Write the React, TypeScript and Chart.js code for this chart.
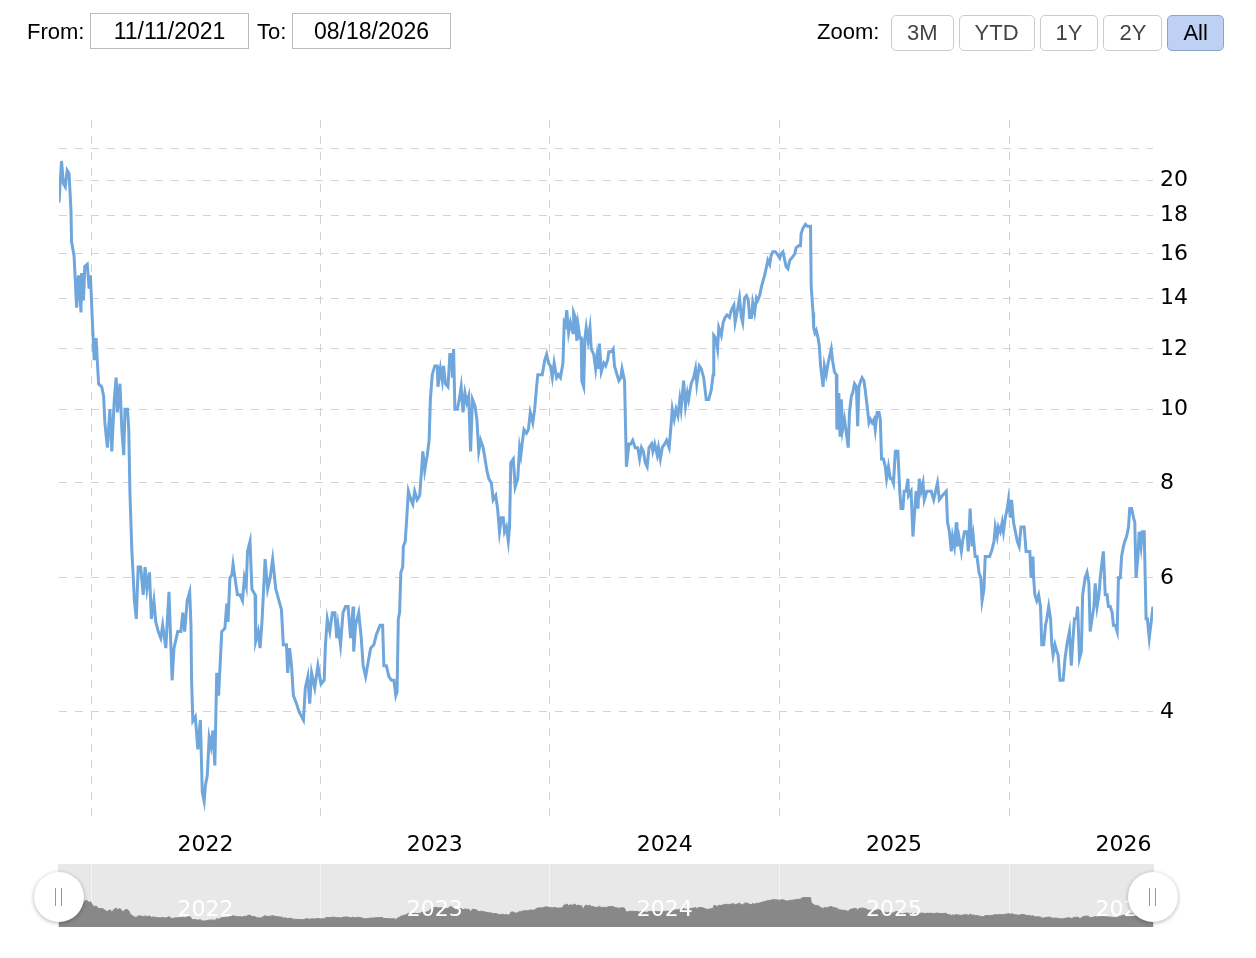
import { useEffect, useRef } from "react";
import { Chart, registerables } from "chart.js";

Chart.register(...registerables);

// x values are days counted from the first date shown (11/11/2021)
const startDate = Date.UTC(2021, 10, 11);
const dayOf = (y: number, m: number, d: number) =>
	Math.round((Date.UTC(y, m - 1, d) - startDate) / 86400000);

const fromLabel = "11/11/2021";
const toLabel = "08/18/2026";
const zoomButtons = ["3M", "YTD", "1Y", "2Y", "All"];
const selectedZoom = "All";

const years = [2022, 2023, 2024, 2025, 2026];
const priceTicks = [4, 6, 8, 10, 12, 14, 16, 18, 20, 22];
const unlabelledTicks = [22];

const days = [
	0, 4, 7, 10, 13, 16, 19, 20, 24, 28, 31, 35, 36, 39, 41, 45, 48, 50, 53, 56,
	59, 63, 68, 71, 73, 77, 81, 84, 88, 91, 93, 97, 100, 103, 105, 109, 111, 113, 116, 118,
	120, 123, 126, 130, 134, 137, 140, 144, 147, 151, 154, 158, 162, 165, 170, 175, 180, 183, 189, 194,
	197, 200, 204, 208, 210, 211, 213, 217, 221, 225, 228, 231, 233, 236, 239, 242, 245, 248, 251, 254,
	259, 264, 267, 269, 272, 275, 277, 280, 284, 288, 292, 295, 298, 300, 304, 307, 312, 313, 317, 320,
	323, 328, 332, 336, 340, 345, 354, 357, 362, 364, 367, 370, 373, 378, 382, 389, 392, 396, 399, 402,
	407, 412, 417, 422, 424, 427, 431, 435, 439, 442, 444, 448, 452, 456, 460, 464, 468, 469, 472, 477,
	481, 484, 488, 492, 496, 501, 505, 511, 515, 517, 521, 525, 529, 533, 536, 538, 540, 542, 544, 547,
	548, 551, 553, 556, 560, 563, 566, 570, 574, 577, 579, 582, 586, 589, 591, 594, 598, 602, 603, 607,
	610, 612, 615, 619, 622, 625, 626, 628, 630, 634, 637, 640, 643, 646, 649, 652, 655, 658, 662, 665,
	668, 671, 675, 678, 681, 684, 688, 691, 695, 698, 701, 704, 707, 709, 712, 715, 717, 719, 723, 726,
	730, 733, 735, 737, 740, 744, 747, 750, 754, 757, 760, 762, 767, 769, 773, 776, 779, 782, 785, 788,
	792, 795, 798, 802, 804, 806, 808, 811, 814, 818, 819, 822, 824, 826, 829, 831, 832, 835, 837, 839,
	842, 845, 847, 851, 854, 856, 858, 860, 863, 867, 870, 873, 875, 879, 882, 884, 888, 891, 894, 896,
	900, 903, 907, 910, 913, 917, 921, 924, 927, 930, 933, 936, 939, 943, 945, 948, 952, 954, 957, 960,
	964, 967, 971, 973, 976, 979, 982, 985, 988, 990, 994, 997, 1000, 1002, 1006, 1010, 1013, 1015, 1019, 1022,
	1026, 1030, 1034, 1038, 1041, 1042, 1045, 1048, 1050, 1054, 1057, 1060, 1063, 1067, 1070, 1074, 1076, 1079, 1083, 1086,
	1088, 1091, 1094, 1097, 1099, 1102, 1104, 1107, 1110, 1112, 1115, 1118, 1120, 1123, 1126, 1128, 1131, 1133, 1136, 1140,
	1143, 1147, 1149, 1152, 1155, 1157, 1160, 1163, 1166, 1171, 1173, 1177, 1180, 1181, 1184, 1188, 1191, 1196, 1197, 1200,
	1201, 1203, 1205, 1208, 1210, 1212, 1216, 1218, 1221, 1224, 1226, 1229, 1231, 1234, 1237, 1238, 1241, 1243, 1245, 1247,
	1250, 1253, 1256, 1258, 1261, 1263, 1266, 1269, 1271, 1273, 1276, 1278, 1281, 1283, 1286, 1289, 1291, 1294, 1297, 1299,
	1302, 1305, 1307, 1309, 1312, 1315, 1317, 1320, 1323, 1326, 1328, 1331, 1335, 1338, 1340, 1343, 1345, 1348, 1351, 1352,
	1356, 1359, 1361, 1364, 1367, 1369, 1372, 1375, 1377, 1381, 1384, 1388, 1392, 1398, 1401, 1406, 1412, 1414, 1417, 1420,
	1422, 1425, 1428, 1429, 1432, 1436, 1438, 1441, 1445, 1447, 1450, 1453, 1455, 1458, 1461, 1464, 1467, 1469, 1472, 1474,
	1478, 1481, 1484, 1488, 1490, 1493, 1495, 1498, 1501, 1503, 1506, 1509, 1511, 1514, 1516, 1519, 1522, 1525, 1528, 1531,
	1534, 1536, 1539, 1543, 1545, 1547, 1550, 1551, 1553, 1556, 1559, 1562, 1564, 1567, 1570, 1572, 1575, 1578, 1580, 1582,
	1585, 1588, 1590, 1593, 1596, 1598, 1601, 1604, 1606, 1608, 1611, 1613, 1616, 1619, 1621, 1624, 1627, 1629, 1633, 1636,
	1639, 1641, 1644, 1647, 1649, 1652, 1655, 1657, 1660, 1662, 1665, 1668, 1670, 1673, 1676, 1678, 1681, 1684, 1686, 1689,
	1691, 1694, 1696, 1699, 1702, 1704, 1707, 1710, 1712, 1714, 1717, 1719, 1722, 1724, 1727, 1730, 1732, 1735, 1741,
];

const prices = [
	18.7, 21.2, 19.8, 19.6, 20.6, 20.4, 18.3, 16.6, 15.9, 13.6, 15.0, 13.4, 15.1, 13.9, 15.4, 15.5, 14.4, 15.0, 13.1, 11.6,
	12.4, 10.8, 10.7, 10.4, 9.6, 8.9, 10.0, 8.8, 10.3, 11.0, 9.9, 10.8, 9.4, 8.7, 10.0, 10.0, 9.4, 7.7, 6.5, 6.05,
	5.6, 5.3, 6.2, 6.2, 5.7, 6.2, 5.8, 6.1, 5.3, 5.6, 5.25, 5.1, 5.0, 5.2, 4.85, 5.75, 4.4, 4.85, 5.1, 5.1,
	5.4, 5.1, 5.6, 5.75, 5.2, 4.4, 3.89, 3.94, 3.57, 3.9, 3.14, 3.05, 3.2, 3.3, 3.7, 3.6, 3.78, 3.4, 4.5, 4.2,
	5.1, 5.15, 5.55, 5.25, 6.0, 6.05, 6.25, 6.0, 5.7, 5.7, 5.6, 6.0, 5.85, 6.5, 6.7, 5.8, 5.7, 4.95, 5.1, 4.85,
	5.25, 6.35, 5.8, 6.0, 6.35, 5.8, 5.45, 4.9, 4.9, 4.5, 4.85, 4.6, 4.2, 4.1, 4.0, 3.9, 4.3, 4.45, 4.1, 4.5,
	4.3, 4.6, 4.35, 4.4, 4.9, 5.3, 5.1, 5.4, 5.4, 5.0, 5.2, 4.9, 5.4, 5.5, 5.5, 5.0, 5.5, 4.8, 5.2, 5.4,
	5.0, 4.6, 4.45, 4.65, 4.85, 4.9, 5.05, 5.2, 5.2, 4.6, 4.6, 4.45, 4.4, 4.4, 4.2, 4.25, 5.3, 5.4, 6.1, 6.2,
	6.6, 6.7, 7.1, 7.8, 7.6, 7.5, 7.8, 7.6, 7.7, 8.3, 8.8, 8.3, 8.7, 9.1, 10.3, 11.1, 11.4, 11.4, 10.7, 11.3,
	10.9, 11.4, 10.8, 10.7, 11.8, 11.8, 11.0, 12.0, 10.0, 10.0, 10.3, 10.7, 9.9, 10.5, 10.2, 10.4, 8.8, 10.3, 10.1, 9.7,
	8.8, 9.1, 8.9, 8.6, 8.3, 8.1, 8.0, 7.6, 7.7, 7.4, 6.9, 7.2, 7.2, 6.9, 7.0, 6.7, 7.0, 8.5, 8.6, 7.9,
	8.1, 8.9, 8.7, 9.0, 9.4, 9.3, 9.4, 9.9, 9.6, 10.0, 10.7, 11.1, 11.1, 11.1, 11.6, 11.8, 11.5, 11.4, 11.0, 11.5,
	11.0, 11.1, 11.0, 11.5, 13.0, 12.9, 13.5, 12.6, 13.0, 12.6, 13.4, 13.2, 12.3, 12.9, 12.4, 12.4, 10.9, 10.7, 12.4, 12.8,
	12.3, 12.8, 12.0, 11.8, 11.3, 11.7, 11.3, 12.2, 11.2, 11.5, 11.4, 11.6, 11.9, 11.9, 12.0, 11.4, 11.1, 10.9, 11.0, 11.3,
	10.9, 8.4, 9.0, 9.0, 9.1, 8.9, 8.9, 8.6, 8.9, 8.8, 8.5, 8.4, 8.9, 9.0, 8.8, 9.0, 8.7, 8.9, 8.6, 8.9,
	9.0, 9.1, 8.9, 9.3, 10.0, 9.7, 10.0, 9.8, 10.3, 10.0, 10.9, 10.1, 10.5, 10.3, 10.8, 11.0, 11.3, 10.8, 11.4, 11.3,
	11.0, 10.3, 10.3, 10.6, 11.1, 12.5, 12.4, 12.0, 12.8, 12.5, 13.0, 13.2, 13.3, 13.2, 13.5, 13.7, 13.0, 13.4, 14.0, 13.2,
	13.0, 14.0, 14.1, 13.9, 13.2, 13.2, 13.8, 13.4, 14.0, 13.9, 14.1, 14.5, 14.7, 15.0, 15.4, 15.7, 15.5, 15.9, 16.1, 16.1,
	16.0, 15.8, 16.0, 16.1, 15.7, 15.4, 15.3, 15.7, 15.8, 16.0, 16.3, 16.4, 16.4, 17.0, 17.3, 17.5, 17.4, 17.4, 14.5, 13.4,
	12.8, 12.6, 12.7, 12.4, 12.1, 11.4, 10.7, 11.4, 11.1, 11.5, 11.7, 12.0, 11.6, 11.2, 11.1, 9.4, 10.5, 9.2, 10.3, 9.4,
	9.7, 9.3, 8.9, 9.9, 10.4, 10.5, 10.8, 10.7, 9.5, 10.7, 10.9, 11.0, 10.9, 10.6, 10.1, 9.6, 9.7, 9.6, 9.7, 9.4,
	9.9, 9.9, 9.7, 8.6, 8.6, 8.4, 8.1, 8.4, 8.1, 8.1, 8.0, 8.8, 8.8, 7.8, 7.4, 7.4, 7.8, 7.8, 8.1, 7.7,
	7.8, 6.8, 7.2, 7.8, 7.4, 8.1, 7.8, 8.0, 7.6, 7.8, 7.8, 7.8, 7.6, 8.0, 7.6, 7.7, 7.8, 7.1, 6.9, 6.5,
	6.8, 6.6, 7.1, 6.6, 6.8, 6.5, 6.7, 6.9, 6.9, 6.5, 7.4, 6.6, 6.8, 6.4, 6.4, 6.1, 6.0, 5.6, 5.8, 6.4,
	6.4, 6.4, 6.5, 6.7, 7.0, 6.8, 7.0, 6.9, 7.1, 6.9, 7.2, 7.4, 7.6, 7.2, 7.6, 7.1, 6.9, 6.7, 6.6, 7.0,
	7.0, 7.0, 6.5, 6.5, 6.5, 6.0, 6.4, 6.0, 5.7, 5.6, 5.7, 5.5, 4.9, 4.9, 5.2, 5.3, 5.5, 5.3, 4.9, 4.75,
	4.9, 4.8, 4.75, 4.4, 4.4, 4.4, 4.7, 4.9, 5.0, 5.1, 4.6, 4.9, 5.3, 5.3, 5.5, 4.7, 4.8, 5.7, 6.0, 6.1,
	5.9, 5.1, 5.3, 5.5, 5.9, 5.5, 5.7, 6.0, 6.3, 6.5, 5.7, 5.7, 5.5, 5.5, 5.4, 5.2, 5.2, 5.1, 6.0, 6.0,
	6.4, 6.6, 6.7, 6.8, 7.0, 7.4, 7.4, 7.2, 7.1, 6.0, 6.4, 6.9, 6.6, 6.9, 6.9, 5.3, 5.3, 5.0, 5.5,
];

const LINE = "#6fa6dc";
const GRID = "#d2d2d2";
const UI_FONT = '"Liberation Sans", Arial, sans-serif';
Chart.defaults.font.family = '"DejaVu Sans", Verdana, sans-serif';
Chart.defaults.font.size = 22;

const endDay = dayOf(2026, 8, 18);
const gridDays = years.map(y => dayOf(y, 1, 1));
const labelDays = years.map(y => dayOf(y, 7, 2));

function points() {
	return days.map((d, i) => ({ x: d, y: prices[i] }));
}

const navigatorLabels = {
	id: "navigatorLabels",
	afterDatasetsDraw(chart: any) {
		const { ctx } = chart;
		const x = chart.scales.x;
		ctx.save();
		ctx.fillStyle = "#ffffff";
		ctx.font = '22px "DejaVu Sans", Verdana, sans-serif';
		ctx.textAlign = "center";
		ctx.textBaseline = "middle";
		labelDays.forEach((d, i) => {
			ctx.fillText(String(years[i]), x.getPixelForValue(d), 46);
		});
		ctx.restore();
	},
};

function PriceChart() {
	const chartRef = useRef<HTMLCanvasElement>(null);
	useEffect(() => {
		if (chartRef.current == null) {
			return;
		}
		const chart = new Chart(chartRef.current, {
			type: "line",
			data: {
				datasets: [{
					data: points(),
					borderColor: LINE,
					borderWidth: 3,
					pointRadius: 0,
					tension: 0,
					fill: false,
				}],
			},
			options: {
				animation: false,
				responsive: false,
				events: [],
				layout: { padding: { left: 59, top: 120, right: 0, bottom: 0 } },
				plugins: { legend: { display: false }, tooltip: { enabled: false } },
				scales: {
					x: {
						type: "linear",
						min: 0,
						max: endDay,
						afterBuildTicks: (scale: any) => {
							scale.ticks = [...gridDays, ...labelDays].sort((a, b) => a - b).map(v => ({ value: v }));
						},
						afterFit: (scale: any) => { scale.height = 42; },
						grid: {
							drawTicks: false,
							lineWidth: 1,
							color: (ctx: any) => gridDays.includes(ctx.tick?.value) ? GRID : "rgba(0,0,0,0)",
						},
						border: { display: false, dash: [8, 8] },
						ticks: {
							padding: 14,
							color: "#000",
							autoSkip: false,
							maxRotation: 0,
							callback: (v: any) => {
								const i = labelDays.indexOf(v);
								return i >= 0 ? String(years[i]) : "";
							},
						},
					},
					y: {
						type: "logarithmic",
						position: "right",
						min: 2.9,
						max: 24,
						afterBuildTicks: (scale: any) => {
							scale.ticks = priceTicks.map(v => ({ value: v }));
						},
						afterFit: (scale: any) => { scale.width = 103; },
						grid: { drawTicks: false, lineWidth: 1, color: GRID },
						border: { display: false, dash: [8, 8] },
						ticks: {
							padding: 7,
							color: "#000",
							autoSkip: false,
							callback: (v: any) => unlabelledTicks.includes(v) ? "" : String(v),
						},
					},
				},
			},
		} as any);
		return () => {
			chart.destroy();
		};
	}, []);

	return <canvas ref={chartRef} width={1256} height={860} style={{ position: "absolute", left: 0, top: 0 }} />;
}

function Navigator() {
	const chartRef = useRef<HTMLCanvasElement>(null);
	useEffect(() => {
		if (chartRef.current == null) {
			return;
		}
		const chart = new Chart(chartRef.current, {
			type: "line",
			data: {
				datasets: [{
					data: points(),
					borderColor: "#888888",
					backgroundColor: "#888888",
					borderWidth: 1,
					pointRadius: 0,
					tension: 0,
					fill: "start",
				}],
			},
			options: {
				animation: false,
				responsive: false,
				events: [],
				layout: { padding: { left: 1, right: 1, top: 0, bottom: 0 } },
				plugins: { legend: { display: false }, tooltip: { enabled: false } },
				scales: {
					x: {
						type: "linear",
						min: 0,
						max: endDay,
						afterBuildTicks: (scale: any) => {
							scale.ticks = gridDays.map(v => ({ value: v }));
						},
						afterFit: (scale: any) => { scale.height = 0; },
						grid: { drawTicks: false, color: "rgba(255,255,255,0.55)" },
						border: { display: false },
						ticks: { display: false },
					},
					y: { type: "linear", display: false, min: -0.6, max: 38 },
				},
			},
			plugins: [navigatorLabels],
		} as any);
		return () => {
			chart.destroy();
		};
	}, []);

	return (
		<div style={{ position: "absolute", left: 58, top: 864, width: 1096, height: 63, background: "#e8e8e8" }}>
			<canvas ref={chartRef} width={1096} height={63} />
		</div>
	);
}

function Handle({ left }: { left: number }) {
	return (
		<div style={{
			position: "absolute", left: left - 25, top: 872, width: 50, height: 50, borderRadius: "50%",
			background: "#fff", boxShadow: "0 1px 4px rgba(0,0,0,0.3)",
		}}>
			<div style={{ position: "absolute", left: 21, top: 16, width: 1, height: 18, background: "#999" }} />
			<div style={{ position: "absolute", left: 27, top: 16, width: 1, height: 18, background: "#999" }} />
		</div>
	);
}

const labelStyle = { position: "absolute" as const, top: 21, fontSize: 22, lineHeight: "22px", color: "#000" };
const inputStyle = {
	position: "absolute" as const, top: 13, width: 159, height: 36, boxSizing: "border-box" as const,
	border: "1px solid #bbb", fontSize: 23, lineHeight: "34px", textAlign: "center" as const, color: "#000",
};

export default function App() {
	return (
		<div style={{ position: "absolute", left: 0, top: 0, width: 1256, height: 958, fontFamily: UI_FONT, background: "#fff" }}>
			<PriceChart />
			<Navigator />
			<Handle left={59} />
			<Handle left={1153} />
			<div style={{ ...labelStyle, left: 27 }}>From:</div>
			<div style={{ ...inputStyle, left: 90 }}>{fromLabel}</div>
			<div style={{ ...labelStyle, left: 257 }}>To:</div>
			<div style={{ ...inputStyle, left: 292 }}>{toLabel}</div>
			<div style={{ ...labelStyle, left: 817 }}>Zoom:</div>
			<div style={{ position: "absolute", left: 891, top: 15, display: "flex", gap: 5 }}>
				{zoomButtons.map(b => (
					<div key={b} style={{
						height: 36, boxSizing: "border-box", padding: "0 15px", borderRadius: 5,
						border: b === selectedZoom ? "1px solid #8ea3c9" : "1px solid #cccccc",
						background: b === selectedZoom ? "#bed0f4" : "#fff",
						color: b === selectedZoom ? "#000" : "#444",
						fontSize: 22, lineHeight: "34px",
					}}>{b}</div>
				))}
			</div>
		</div>
	);
}
